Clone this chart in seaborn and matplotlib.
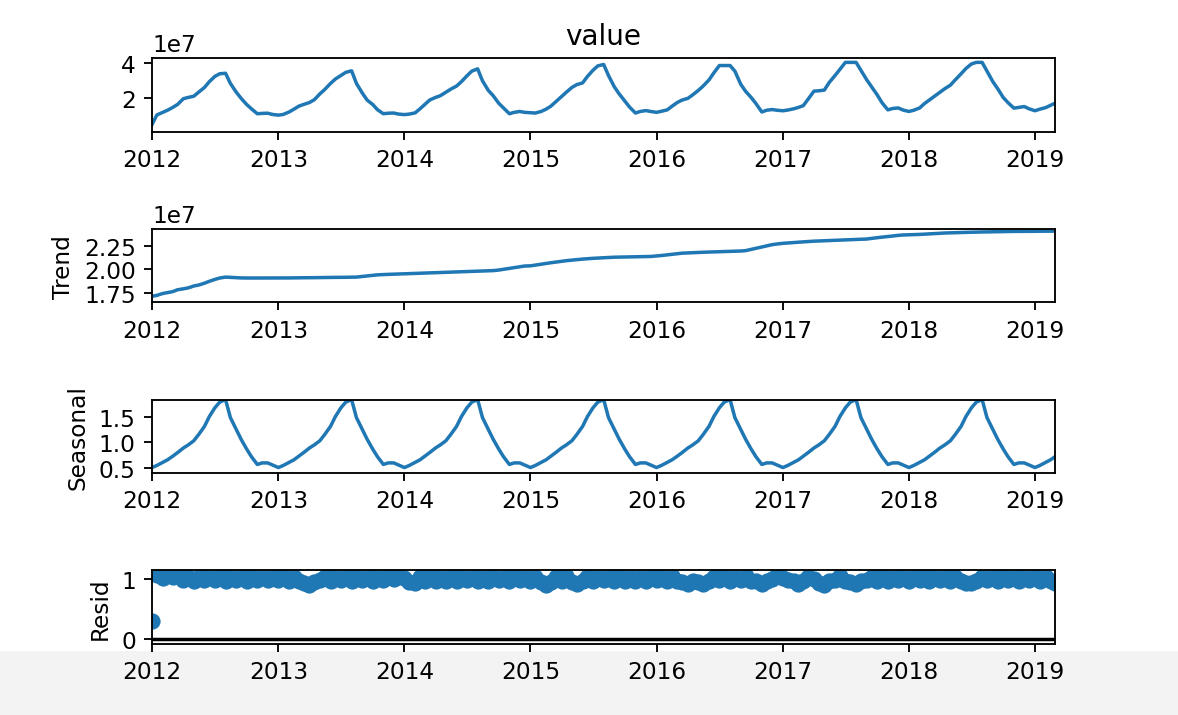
import numpy as np
import pandas as pd
import matplotlib
matplotlib.use("Agg")
import matplotlib.pyplot as plt
import matplotlib.dates as mdates
from matplotlib.patches import Rectangle
import seaborn as sns

# semi-monthly samples (1st and 15th)
dates = pd.date_range("2012-01-01", "2019-02-15", freq="SMS").append(pd.DatetimeIndex(["2019-02-28"]))

# observed series, in units of 1e7
value = [
    0.50, 1.05, 1.20, 1.32, 1.48, 1.65, 1.98, 2.05, 2.12, 2.35, 2.62, 2.95, 3.25, 3.40, 3.43, 2.85, 2.35, 2.00, 1.65, 1.40, 1.12, 1.14, 1.15, 1.08,
    1.04, 1.08, 1.22, 1.38, 1.55, 1.65, 1.76, 1.92, 2.25, 2.50, 2.85, 3.10, 3.30, 3.48, 3.57, 2.85, 2.30, 1.90, 1.65, 1.35, 1.12, 1.15, 1.16, 1.10,
    1.07, 1.10, 1.17, 1.40, 1.65, 1.90, 2.05, 2.15, 2.35, 2.52, 2.70, 2.95, 3.28, 3.55, 3.68, 3.00, 2.45, 2.15, 1.72, 1.45, 1.12, 1.20, 1.25, 1.20,
    1.18, 1.16, 1.25, 1.38, 1.55, 1.80, 2.10, 2.35, 2.62, 2.78, 2.88, 3.25, 3.60, 3.85, 3.93, 3.30, 2.65, 2.25, 1.85, 1.50, 1.16, 1.25, 1.30, 1.25,
    1.20, 1.26, 1.34, 1.55, 1.76, 1.90, 2.00, 2.20, 2.45, 2.70, 3.05, 3.45, 3.87, 3.87, 3.87, 3.55, 2.80, 2.40, 2.05, 1.70, 1.22, 1.32, 1.36, 1.32,
    1.29, 1.33, 1.40, 1.48, 1.58, 1.95, 2.41, 2.43, 2.47, 2.90, 3.30, 3.65, 4.05, 4.05, 4.05, 3.60, 3.05, 2.65, 2.20, 1.75, 1.34, 1.42, 1.45, 1.33,
    1.25, 1.32, 1.45, 1.70, 1.90, 2.10, 2.35, 2.55, 2.75, 3.05, 3.40, 3.70, 3.96, 4.05, 4.05, 3.55, 2.95, 2.55, 2.05, 1.75, 1.44, 1.48, 1.53, 1.40,
    1.29, 1.38, 1.47, 1.60, 1.72,
]

trend = [
    1.710, 1.720, 1.740, 1.750, 1.760, 1.780, 1.790, 1.800, 1.820, 1.830, 1.850, 1.870, 1.890, 1.905, 1.915, 1.912, 1.908, 1.906, 1.905, 1.905, 1.905, 1.905, 1.905, 1.905,
    1.905, 1.906, 1.906, 1.907, 1.907, 1.908, 1.908, 1.909, 1.910, 1.910, 1.911, 1.912, 1.912, 1.913, 1.914, 1.915, 1.922, 1.928, 1.934, 1.939, 1.942, 1.944, 1.946, 1.948,
    1.950, 1.952, 1.954, 1.956, 1.958, 1.960, 1.962, 1.964, 1.966, 1.968, 1.970, 1.972, 1.974, 1.976, 1.978, 1.980, 1.982, 1.984, 1.990, 1.998, 2.007, 2.016, 2.025, 2.033,
    2.035, 2.043, 2.052, 2.060, 2.068, 2.075, 2.083, 2.090, 2.096, 2.102, 2.107, 2.111, 2.115, 2.118, 2.121, 2.124, 2.127, 2.128, 2.129, 2.130, 2.131, 2.132, 2.133, 2.135,
    2.140, 2.145, 2.152, 2.158, 2.165, 2.170, 2.173, 2.176, 2.178, 2.180, 2.182, 2.184, 2.186, 2.188, 2.190, 2.192, 2.193, 2.197, 2.210, 2.222, 2.236, 2.248, 2.261, 2.268,
    2.275, 2.279, 2.283, 2.287, 2.290, 2.294, 2.298, 2.300, 2.302, 2.305, 2.307, 2.309, 2.311, 2.313, 2.315, 2.317, 2.321, 2.328, 2.335, 2.341, 2.347, 2.353, 2.360, 2.364,
    2.366, 2.368, 2.370, 2.373, 2.375, 2.378, 2.382, 2.385, 2.387, 2.389, 2.390, 2.392, 2.393, 2.395, 2.396, 2.397, 2.398, 2.399, 2.400, 2.401, 2.402, 2.402, 2.403, 2.403,
    2.403, 2.404, 2.404, 2.405, 2.405,
]

seasonal = [
    0.51, 0.55, 0.61, 0.66, 0.73, 0.80, 0.89, 0.95, 1.03, 1.15, 1.31, 1.50, 1.67, 1.78, 1.83, 1.48, 1.25, 1.06, 0.87, 0.72, 0.57, 0.60, 0.60, 0.56,
    0.51, 0.55, 0.61, 0.66, 0.73, 0.80, 0.89, 0.95, 1.03, 1.15, 1.31, 1.50, 1.67, 1.78, 1.83, 1.48, 1.25, 1.06, 0.87, 0.72, 0.57, 0.60, 0.60, 0.56,
    0.51, 0.55, 0.61, 0.66, 0.73, 0.80, 0.89, 0.95, 1.03, 1.15, 1.31, 1.50, 1.67, 1.78, 1.83, 1.48, 1.25, 1.06, 0.87, 0.72, 0.57, 0.60, 0.60, 0.56,
    0.51, 0.55, 0.61, 0.66, 0.73, 0.80, 0.89, 0.95, 1.03, 1.15, 1.31, 1.50, 1.67, 1.78, 1.83, 1.48, 1.25, 1.06, 0.87, 0.72, 0.57, 0.60, 0.60, 0.56,
    0.51, 0.55, 0.61, 0.66, 0.73, 0.80, 0.89, 0.95, 1.03, 1.15, 1.31, 1.50, 1.67, 1.78, 1.83, 1.48, 1.25, 1.06, 0.87, 0.72, 0.57, 0.60, 0.60, 0.56,
    0.51, 0.55, 0.61, 0.66, 0.73, 0.80, 0.89, 0.95, 1.03, 1.15, 1.31, 1.50, 1.67, 1.78, 1.83, 1.48, 1.25, 1.06, 0.87, 0.72, 0.57, 0.60, 0.60, 0.56,
    0.51, 0.55, 0.61, 0.66, 0.73, 0.80, 0.89, 0.95, 1.03, 1.15, 1.31, 1.50, 1.67, 1.78, 1.83, 1.48, 1.25, 1.06, 0.87, 0.72, 0.57, 0.60, 0.60, 0.56,
    0.51, 0.55, 0.61, 0.66, 0.72,
]

resid = [
    0.30, 1.06, 1.02, 1.07, 1.03, 1.06, 0.99, 1.04, 0.97, 1.04, 0.98, 1.05, 0.98, 1.04, 0.97, 1.05, 0.98, 1.04, 0.97, 1.05, 0.98, 1.04, 0.98, 1.05,
    0.98, 1.05, 0.97, 1.04, 0.97, 0.94, 0.90, 0.95, 0.98, 1.04, 0.97, 1.05, 0.98, 1.04, 0.97, 1.05, 0.98, 1.04, 0.97, 1.05, 0.98, 1.04, 1.00, 1.06,
    1.02, 0.95, 0.93, 1.04, 0.97, 1.05, 0.97, 1.04, 0.96, 1.05, 0.97, 1.04, 0.98, 1.05, 0.97, 1.04, 0.97, 1.05, 0.98, 1.04, 0.97, 1.05, 0.98, 1.04,
    0.97, 1.04, 0.95, 0.90, 0.95, 1.04, 0.97, 1.05, 0.95, 0.91, 0.96, 1.04, 0.97, 1.05, 0.98, 1.04, 0.97, 1.05, 0.97, 1.04, 0.96, 1.03, 0.97, 1.05,
    0.98, 1.04, 0.97, 1.05, 0.96, 0.95, 0.91, 0.97, 0.95, 0.92, 0.97, 1.04, 0.98, 1.05, 0.97, 1.04, 0.98, 1.05, 0.97, 0.96, 0.92, 0.97, 1.00, 1.07,
    1.02, 0.98, 0.96, 0.91, 0.97, 1.04, 1.00, 0.93, 0.90, 0.96, 0.98, 1.05, 0.97, 0.95, 0.92, 0.97, 0.98, 1.04, 0.97, 1.05, 0.97, 1.04, 0.98, 1.05,
    0.97, 1.04, 0.98, 1.05, 0.97, 1.04, 0.98, 1.05, 0.97, 1.04, 0.96, 0.93, 0.94, 0.97, 1.04, 0.98, 1.05, 0.97, 1.04, 0.98, 1.05, 0.97, 1.04, 0.98,
    1.05, 0.97, 1.04, 0.97, 0.94,
]

df = pd.DataFrame({
    "date": dates,
    "value": np.array(value) * 1e7,
    "trend": np.array(trend) * 1e7,
    "seasonal": seasonal,
    "resid": resid,
})

blue = "#1f77b4"
W, H, DPI = 1178, 716, 167
fig, axes = plt.subplots(4, 1, figsize=(W / DPI, H / DPI), dpi=DPI)
fig.subplots_adjust(left=152 / W, right=1055 / W, top=1 - 59 / H, bottom=1 - 645 / H, hspace=1.32)

# light grey strip at the bottom of the screenshot
fig.add_artist(Rectangle((0, 0), 1, 64 / H, transform=fig.transFigure,
                         color="#f3f3f3", zorder=-10, linewidth=0))

sns.lineplot(data=df, x="date", y="value", ax=axes[0], color=blue, linewidth=1.5)
axes[0].set_title("value", fontsize=12)
axes[0].set_ylabel("")
axes[0].set_ylim(0.1e7, 4.3e7)
axes[0].set_yticks([2e7, 4e7])

sns.lineplot(data=df, x="date", y="trend", ax=axes[1], color=blue, linewidth=1.5)
axes[1].set_ylabel("Trend")
axes[1].set_ylim(1.645e7, 2.43e7)
axes[1].set_yticks([1.75e7, 2.0e7, 2.25e7])

sns.lineplot(data=df, x="date", y="seasonal", ax=axes[2], color=blue, linewidth=1.5)
axes[2].set_ylabel("Seasonal")
axes[2].set_ylim(0.40, 1.83)
axes[2].set_yticks([0.5, 1.0, 1.5])

sns.scatterplot(data=df, x="date", y="resid", ax=axes[3], color=blue, s=49, linewidth=0)
axes[3].axhline(0, color="#000000", zorder=-3, linewidth=1.5)
axes[3].set_ylabel("Resid")
axes[3].set_ylim(-0.086, 1.144)
axes[3].set_yticks([0, 1])

for ax in axes:
    ax.set_xlabel("")
    ax.set_xlim(pd.Timestamp("2012-01-01"), pd.Timestamp("2019-02-28"))
    ax.xaxis.set_major_locator(mdates.YearLocator())
    ax.xaxis.set_major_formatter(mdates.DateFormatter("%Y"))

fig.savefig("out.png", dpi=DPI)
